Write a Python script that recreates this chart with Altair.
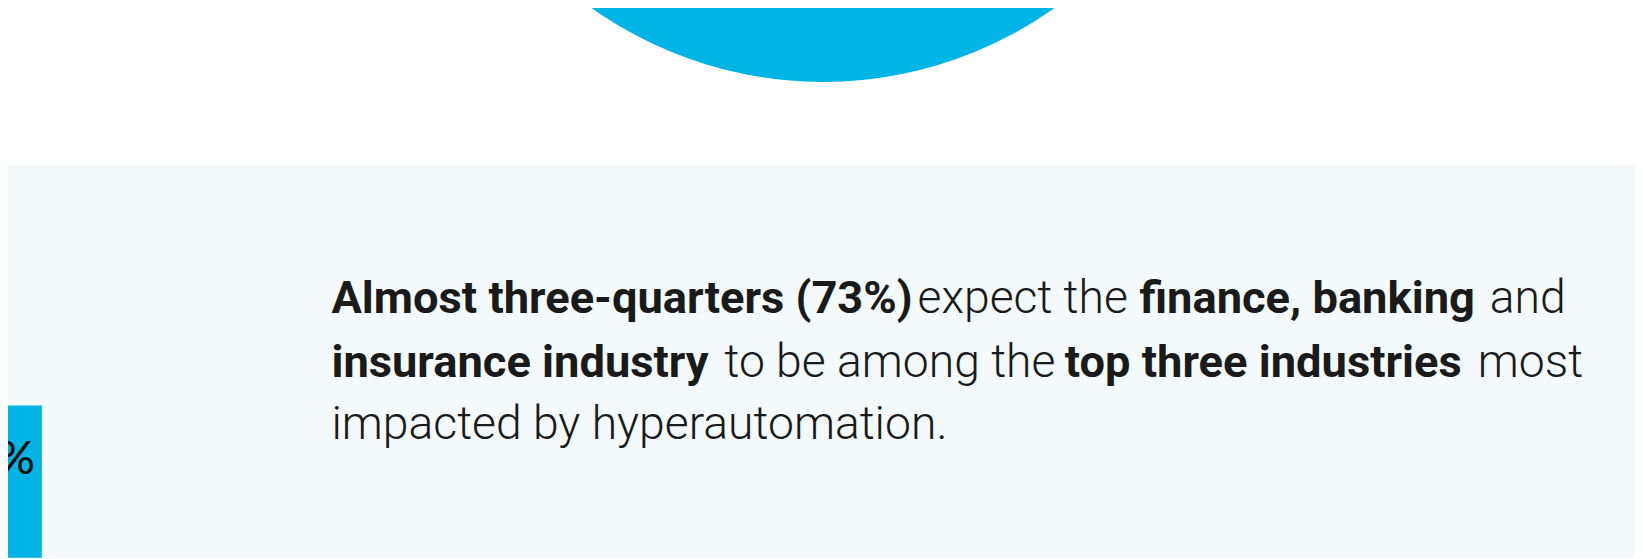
import altair as alt
import pandas as pd

# ---- content -------------------------------------------------------------
line_texts = [
    ["Almost three-quarters (73%)", "expect the", "finance, banking", "and"],
    ["insurance industry", "to be among the", "top three industries", "most"],
    ["impacted by hyperautomation."],
]
line_bold = [
    [True, False, True, False],
    [True, False, True, False],
    [False],
]
side_label = "%"

# ---- layout (page pixels of the reference, minus the 8px page margin) -----
OFF = 8
W, H = 1643 - OFF, 559 - OFF
seg_start = [[333, 922, 1145, 1497], [333, 728, 1070, 1485], [333]]
baselines = [313, 377, 440]

BLUE = "#00b5e6"
PANEL = "#f4fafb"
INK = "#1a1a1a"
FONT = "Roboto"
FSIZE_BOLD = 45.5
FSIZE_LIGHT = 46.5

rows = []
for li, (texts, bolds) in enumerate(zip(line_texts, line_bold)):
    for t, b, x in zip(texts, bolds, seg_start[li]):
        rows.append({"text": t, "bold": b, "x": x - OFF, "y": baselines[li] - OFF})
df = pd.DataFrame(rows)

xs = alt.Scale(domain=[0, W], range=[0, W])
ys = alt.Scale(domain=[0, H], range=[0, H])

one = pd.DataFrame({"k": [0]})

panel = alt.Chart(one).mark_rect(color=PANEL).encode(
    x=alt.value(0), x2=alt.value(W), y=alt.value(165 - OFF), y2=alt.value(H)
)

circle = alt.Chart(one).mark_arc(
    radius=401, theta=0, theta2=6.2832, color=BLUE
).encode(x=alt.value(827 - OFF), y=alt.value(-320 - OFF))

bar = alt.Chart(one).mark_rect(color=BLUE).encode(
    x=alt.value(0), x2=alt.value(42 - OFF), y=alt.value(406 - OFF), y2=alt.value(H)
)

pct = alt.Chart(pd.DataFrame({"t": [side_label]})).mark_text(
    font="Lato", fontSize=46, fontWeight=500, color="#111111",
    align="right", baseline="alphabetic"
).encode(x=alt.value(35 - OFF), y=alt.value(475 - OFF), text="t:N")

def seg_layer(bold):
    return alt.Chart(df).transform_filter(
        alt.datum.bold == bold
    ).mark_text(
        font=FONT, fontSize=FSIZE_BOLD if bold else FSIZE_LIGHT,
        fontWeight=700 if bold else 300,
        color=INK, align="left", baseline="alphabetic"
    ).encode(
        x=alt.X("x:Q", scale=xs, axis=None),
        y=alt.Y("y:Q", scale=ys, axis=None),
        text="text:N",
    )

chart = alt.layer(panel, circle, bar, pct, seg_layer(True), seg_layer(False)).properties(
    width=W, height=H, autosize=alt.AutoSizeParams(type="none"), padding=0,
    background="white"
).configure_view(stroke=None)

chart.save("out.html", embed_options={"renderer": "svg", "actions": False})
